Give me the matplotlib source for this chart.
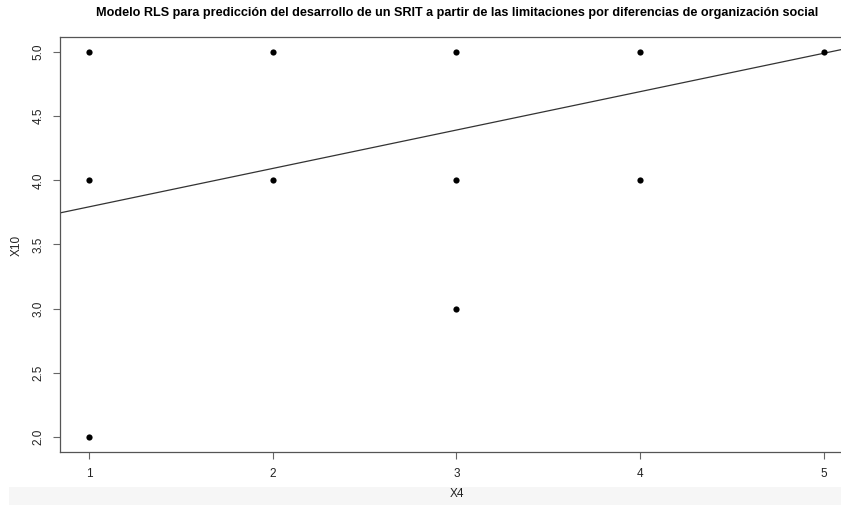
import matplotlib
matplotlib.use("Agg")
import matplotlib.pyplot as plt
from matplotlib.patches import Rectangle
import numpy as np

plt.rcParams['font.family'] = ['Liberation Sans', 'DejaVu Sans']

# Data
x4 = [1, 1, 1, 2, 2, 3, 3, 3, 4, 4, 5]
x10 = [5, 4, 2, 5, 4, 5, 4, 3, 5, 4, 5]
coef = [3.495, 0.299]  # intercept, slope of fitted RLS line
xticks = [1, 2, 3, 4, 5]
yticks = [2.0, 2.5, 3.0, 3.5, 4.0, 4.5, 5.0]
title = "Modelo RLS para predicción del desarrollo de un SRIT a partir de las limitaciones por diferencias de organización social"

W, H = 841, 505
fig = plt.figure(figsize=(W / 100, H / 100), dpi=100)
fig.patches.append(Rectangle((9 / W, 0), 1, 18 / H, transform=fig.transFigure,
                             facecolor='#f6f6f6', edgecolor='none', zorder=0))

ax = fig.add_axes([60 / W, 52.6 / H, 793 / W, 415.8 / H])
ax.set_xlim(0.84, 5.16)
ax.set_ylim(1.88, 5.12)

ax.scatter(x4, x10, s=20, color='black', zorder=3, linewidths=0)
xx = np.array(ax.get_xlim())
ax.plot(xx, coef[0] + coef[1] * xx, color='#333333', lw=0.9, zorder=2)

ax.set_xticks(xticks)
ax.set_xticklabels([str(t) for t in xticks], fontsize=8.5, color='#222222')
ax.set_yticks(yticks)
ax.set_yticklabels([f"{t:.1f}" for t in yticks], fontsize=8.5, rotation=90, va='center', color='#222222')
ax.tick_params(axis='both', length=5, width=0.8, color='#666666', pad=6)

for s in ax.spines.values():
    s.set_color('#555555')
    s.set_linewidth(0.9)

fig.text(457 / W, 1 - 13 / H, title, ha='center', va='center',
         fontsize=9.05, fontweight='bold')
fig.text((60 + 853) / 2 / W, 1 - 494 / H, "X4", ha='center', va='center', fontsize=8.5, color='#222222')
fig.text(17 / W, 1 - 245 / H, "X10", ha='center', va='center', fontsize=8.5, rotation=90, color='#222222')

fig.savefig("out.png", dpi=100)
